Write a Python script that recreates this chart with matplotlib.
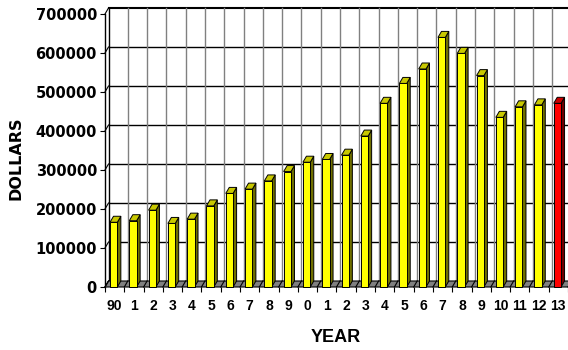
import matplotlib
matplotlib.use("Agg")
import matplotlib.pyplot as plt
from matplotlib.patches import Polygon

# ---- data ----
YEARS = ["90", "1", "2", "3", "4", "5", "6", "7", "8", "9",
         "0", "1", "2", "3", "4", "5", "6", "7", "8", "9",
         "10", "11", "12", "13"]
DOLLARS = [166000, 170000, 197000, 163000, 174000, 208000, 240000, 251000,
           272000, 296000, 320000, 327000, 338000, 387000, 471000, 522000,
           559000, 640000, 599000, 542000, 435000, 462000, 467000, 471000]
HIGHLIGHT = ["13"]  # last year drawn in red
YTICKS = [0, 100000, 200000, 300000, 400000, 500000, 600000, 700000]

# ---- look ----
W, H = 568, 350
AX_L, AX_R, AX_B, AX_T = 105, 568, 287, 14          # front plane, pixels
YMAX = 700000
n = len(YEARS)
px_x = (AX_R - AX_L) / n
px_y = (AX_B - AX_T) / YMAX
DX = 3.5 / px_x          # depth offset in data units
DY = 6.0 / px_y
BW = 0.38                # bar front width (category units)

FACE = "#ffff00"
TOP = "#c8c800"
SIDE = "#707000"
RFACE, RTOP, RSIDE = "#ff0000", "#c80000", "#700000"
FLOOR = "#808080"

fig = plt.figure(figsize=(W / 100, H / 100), dpi=100)
ax = fig.add_axes([AX_L / W, 1 - AX_B / H, (AX_R - AX_L) / W, (AX_B - AX_T) / H])
ax.set_xlim(-0.5, n - 0.5)
ax.set_ylim(0, YMAX)
for s in ax.spines.values():
    s.set_visible(False)
ax.patch.set_visible(False)

# back wall grid
for v in YTICKS[1:]:
    ax.plot([-0.5 + DX, n - 0.5 + DX], [v + DY, v + DY], color="black",
            lw=1.5 if v == YMAX else 1.0, clip_on=False, zorder=1)
for k in range(1, n):
    ax.plot([k - 0.5 + DX, k - 0.5 + DX], [DY, YMAX + DY], color="#808080",
            lw=1.0, clip_on=False, zorder=1)

# left side wall
ax.plot([-0.5, -0.5], [0, YMAX], color="black", lw=1.0, clip_on=False, zorder=2)
ax.plot([-0.5 + DX, -0.5 + DX], [DY, YMAX + DY], color="black", lw=1.0,
        clip_on=False, zorder=2)
for v in YTICKS:
    ax.plot([-0.5, -0.5 + DX], [v, v + DY], color="black", lw=0.8,
            clip_on=False, zorder=2)

# floor
ax.add_patch(Polygon([(-0.5, 0), (n - 0.5, 0), (n - 0.5 + DX, DY), (-0.5 + DX, DY)],
                     closed=True, facecolor=FLOOR, edgecolor="black", lw=0.8,
                     clip_on=False, zorder=2))
for k in range(n + 1):
    ax.plot([k - 0.5, k - 0.5 + DX], [0, DY], color="black", lw=0.8,
            clip_on=False, zorder=2)

# bars: front face via ax.bar, then top and side faces
xs = list(range(n))
colors = [RFACE if y in HIGHLIGHT and i == n - 1 else FACE for i, y in enumerate(YEARS)]
for i, (x, v) in enumerate(zip(xs, DOLLARS)):
    red = colors[i] == RFACE
    xc = x - 0.05
    l, r = xc - BW / 2, xc + BW / 2
    ax.add_patch(Polygon([(r, 0), (r + DX, DY), (r + DX, v + DY), (r, v)],
                         closed=True, facecolor=RSIDE if red else SIDE,
                         edgecolor="black", lw=0.7, clip_on=False, zorder=3 + i))
    ax.add_patch(Polygon([(l, v), (r, v), (r + DX, v + DY), (l + DX, v + DY)],
                         closed=True, facecolor=RTOP if red else TOP,
                         edgecolor="black", lw=0.7, clip_on=False, zorder=3 + i))
    ax.bar(xc, v, width=BW, color=colors[i], edgecolor="black", lw=0.7,
           clip_on=False, zorder=3.5 + i)

# ticks and labels
ax.set_yticks(YTICKS)
ax.set_yticklabels([str(v) for v in YTICKS], fontfamily="DejaVu Sans",
                   fontweight="bold", fontsize=10.5)
ax.tick_params(axis="y", length=3.6, width=0.8, pad=2.2, direction="out")
ax.set_xticks(xs)
ax.set_xticklabels(YEARS, fontfamily=["Liberation Sans Narrow", "Liberation Sans"],
                   fontweight="bold", fontsize=10)
ax.set_xticks([k - 0.5 for k in range(n + 1)], minor=True)
ax.tick_params(axis="x", which="major", length=0, pad=9)
ax.tick_params(axis="x", which="minor", length=3.6, width=0.8, direction="out")

fig.text(16.5 / W, 1 - 158 / H, "DOLLARS", rotation=90, ha="center", va="center",
         fontfamily="DejaVu Sans", fontweight="bold", fontsize=11.5)
fig.text(336 / W, 1 - 337 / H, "YEAR", ha="center", va="center",
         fontfamily=["Liberation Sans Narrow", "Liberation Sans"],
         fontweight="bold", fontsize=13)

fig.savefig("out.png", dpi=100, facecolor="white")
